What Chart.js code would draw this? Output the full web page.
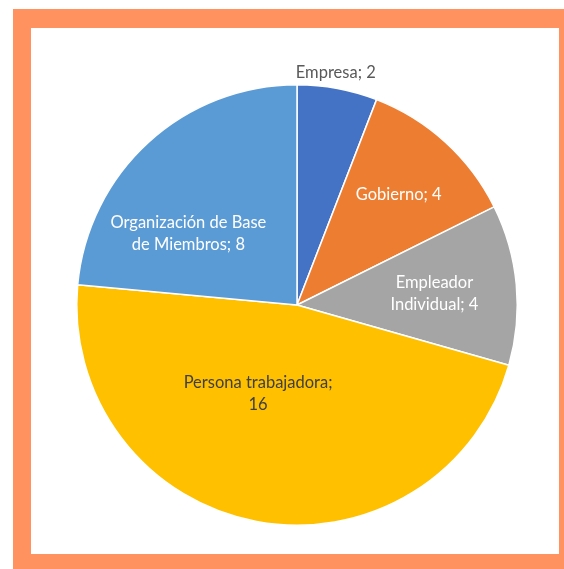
<!DOCTYPE html>
<html>
<head>
<meta charset="utf-8">
<script src="https://cdn.jsdelivr.net/npm/chart.js@4.4.0/dist/chart.umd.min.js"></script>
<style>
  html, body { margin: 0; padding: 0; background: #fff; }
  body { width: 564px; height: 569px; position: relative; overflow: hidden; }
  .frame { position: absolute; left: 13px; top: 9px; width: 560px; height: 570px; background: #ff925f; }
  .inner { position: absolute; left: 31px; top: 28px; width: 528px; height: 526px; background: #fff; }
  .wrap { position: absolute; left: 47px; top: 55px; width: 500px; height: 500px; }
</style>
</head>
<body>
<div class="frame"></div>
<div class="inner"></div>
<div class="wrap"><canvas id="pie" width="500" height="500"></canvas></div>
<script>
// data
var categories = ['Empresa', 'Gobierno', 'Empleador individual', 'Persona trabajadora', 'Organización de Base de Miembros'];
var values = [2, 4, 4, 16, 8];
// how the labels are broken into lines
var labelLines = [
  ['Empresa; 2'],
  ['Gobierno; 4'],
  ['Empleador', 'Individual; 4'],
  ['Persona trabajadora;', '16'],
  ['Organización de Base', 'de Miembros; 8']
];
var colors = ['#4472c4', '#ed7d31', '#a5a5a5', '#ffc000', '#5b9bd5'];
var labelColors = ['#595959', '#ffffff', '#ffffff', '#404040', '#ffffff'];
// label placement: [angle offset from slice middle (deg), radius fraction]
var labelPos = [[-1.1, 1.068], [0.25, 0.682], [0.7, 0.626], [13.1, 0.44], [-14.2, 0.591]];

// labels drawn on top of the slices
var sliceLabels = {
  id: 'sliceLabels',
  afterDatasetsDraw: function(chart) {
    var ctx = chart.ctx;
    var meta = chart.getDatasetMeta(0);
    ctx.save();
    ctx.font = '16.5px Lato';
    ctx.textAlign = 'center';
    ctx.textBaseline = 'middle';
    meta.data.forEach(function(arc, i) {
      var p = arc.getProps(['x', 'y', 'startAngle', 'endAngle', 'outerRadius'], true);
      var a = (p.startAngle + p.endAngle) / 2 + labelPos[i][0] * Math.PI / 180;
      var r = p.outerRadius * labelPos[i][1];
      var cx = p.x + Math.cos(a) * r;
      var cy = p.y + Math.sin(a) * r;
      var lines = labelLines[i];
      var lh = 22;
      ctx.fillStyle = labelColors[i];
      lines.forEach(function(t, j) {
        ctx.fillText(t, cx, cy + (j - (lines.length - 1) / 2) * lh);
      });
    });
    ctx.restore();
  }
};

var ctx = document.getElementById('pie').getContext('2d');

var myPieChart = new Chart(ctx, {
  type: 'pie',
  data: {
    labels: categories,
    datasets: [{
      data: values,
      backgroundColor: colors,
      borderColor: '#ffffff',
      borderWidth: 1.5,
      hoverOffset: 0
    }]
  },
  options: {
    responsive: false,
    animation: false,
    layout: { padding: 29 },
    plugins: {
      legend: { display: false },
      tooltip: { enabled: false }
    }
  },
  plugins: [sliceLabels]
});
</script>
</body>
</html>
